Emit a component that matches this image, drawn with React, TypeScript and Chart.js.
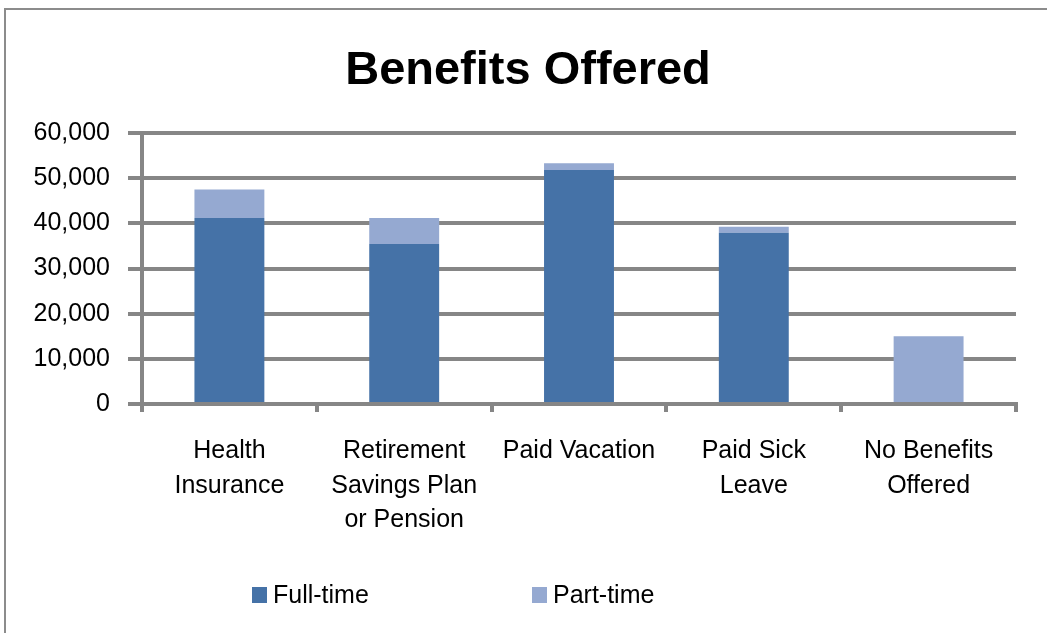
import React, { useEffect, useRef } from "react";
import { Chart, registerables } from "chart.js";

Chart.register(...registerables);

const titleText = "Benefits Offered";
const categories: string[][] = [
  ["Health", "Insurance"],
  ["Retirement", "Savings Plan", "or Pension"],
  ["Paid Vacation"],
  ["Paid Sick", "Leave"],
  ["No Benefits", "Offered"],
];
const seriesNames = ["Full-time", "Part-time"];
const fullTime = [41200, 35400, 51800, 37900, 0];
const partTime = [6300, 5800, 1500, 1350, 15000];
const seriesColors = ["#4572A7", "#95A9D1"];
const yMin = 0;
const yMax = 60000;
const yStep = 10000;

const FONT = "'Liberation Sans', Arial, sans-serif";
const GRID = "#868686";

const framePlugin = {
  id: "frame",
  beforeDraw(chart: any) {
    const ctx = chart.ctx;
    ctx.save();
    ctx.strokeStyle = "#8c8c8c";
    ctx.lineWidth = 2;
    ctx.beginPath();
    ctx.moveTo(5, chart.height + 5);
    ctx.lineTo(5, 9);
    ctx.lineTo(chart.width + 5, 9);
    ctx.stroke();
    ctx.restore();
  },
};

const textPlugin = {
  id: "titleLegend",
  afterDraw(chart: any) {
    const ctx = chart.ctx;
    ctx.save();
    ctx.fillStyle = "#000";
    ctx.font = `bold 47px ${FONT}`;
    ctx.textAlign = "center";
    ctx.textBaseline = "alphabetic";
    ctx.fillText(titleText, 528, 84);

    const boxX = [252, 532];
    ctx.font = `25px ${FONT}`;
    ctx.textAlign = "left";
    ctx.textBaseline = "middle";
    chart.data.datasets.forEach((ds: any, i: number) => {
      ctx.fillStyle = ds.backgroundColor;
      ctx.fillRect(boxX[i], 587, 15, 16);
      ctx.fillStyle = "#000";
      ctx.fillText(ds.label, boxX[i] + 21, 596);
    });
    ctx.restore();
  },
};

export default function App() {
  const ref = useRef<HTMLCanvasElement | null>(null);
  useEffect(() => {
    if (!ref.current) return;
    const chart = new Chart(ref.current, {
      type: "bar",
      data: {
        labels: categories,
        datasets: [
          { label: seriesNames[0], data: fullTime, backgroundColor: seriesColors[0] },
          { label: seriesNames[1], data: partTime, backgroundColor: seriesColors[1] },
        ],
      },
      plugins: [framePlugin, textPlugin],
      options: {
        responsive: false,
        animation: false,
        layout: { padding: { top: 133, right: 31, left: 0, bottom: 0 } },
        datasets: { bar: { barPercentage: 0.4, categoryPercentage: 1 } },
        plugins: {
          legend: { display: false },
          title: { display: false },
          tooltip: { enabled: false },
        },
        scales: {
          x: {
            stacked: true,
            grid: {
              display: true,
              drawOnChartArea: false,
              drawTicks: true,
              tickLength: 8,
              color: GRID,
              lineWidth: 4,
              offset: true,
            },
            border: { display: true, color: GRID, width: 4 },
            ticks: {
              color: "#000",
              font: { family: FONT, size: 25, lineHeight: 1.38 },
              padding: 22,
              maxRotation: 0,
              autoSkip: false,
            },
            afterFit(s: any) {
              s.height = 229;
            },
          },
          y: {
            stacked: true,
            min: yMin,
            max: yMax,
            grid: {
              color: GRID,
              lineWidth: 4,
              drawTicks: true,
              tickLength: 14,
            },
            border: { display: true, color: GRID, width: 4 },
            ticks: {
              stepSize: yStep,
              color: "#000",
              font: { family: FONT, size: 25 },
              padding: 18,
            },
            afterFit(s: any) {
              s.width = 142;
            },
          },
        },
      },
    } as any);
    return () => chart.destroy();
  }, []);
  return (
    <div style={{ position: "absolute", left: 0, top: 0, width: 1047, height: 633, background: "#fff" }}>
      <canvas ref={ref} width={1047} height={633} style={{ display: "block" }} />
    </div>
  );
}
